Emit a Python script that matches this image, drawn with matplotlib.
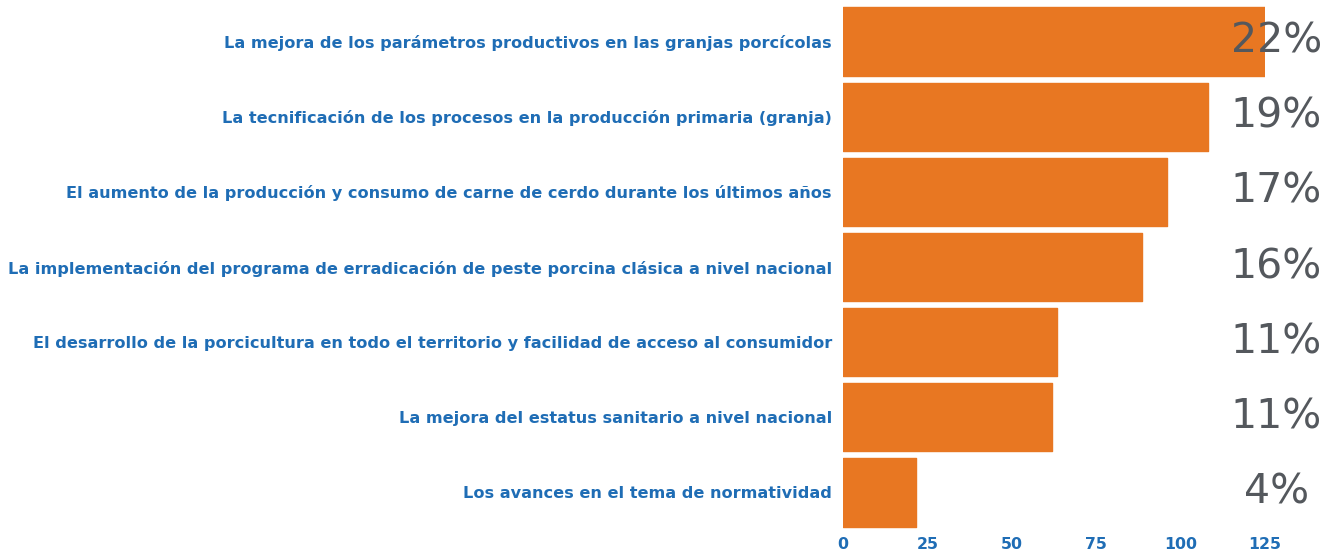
import matplotlib
matplotlib.use("Agg")
import matplotlib.pyplot as plt

categories = [
    "La mejora de los parámetros productivos en las granjas porcícolas",
    "La tecnificación de los procesos en la producción primaria (granja)",
    "El aumento de la producción y consumo de carne de cerdo durante los últimos años",
    "La implementación del programa de erradicación de peste porcina clásica a nivel nacional",
    "El desarrollo de la porcicultura en todo el territorio y facilidad de acceso al consumidor",
    "La mejora del estatus sanitario a nivel nacional",
    "Los avances en el tema de normatividad",
]
values = [125, 108, 96, 88.5, 63.5, 62, 21.5]
pct_labels = ["22%", "19%", "17%", "16%", "11%", "11%", "4%"]
xticks = [0, 25, 50, 75, 100, 125]

ORANGE = "#E87722"
BLUE = "#1F6DB5"
GRAY = "#54585D"

fig = plt.figure(figsize=(13.27, 5.54), dpi=100)
ax = fig.add_axes([843/1327, 1-530/554, (1265-843)/1327, (530-4)/554])

ypos = list(range(len(categories)))
bars = ax.barh(ypos, values, height=0.91, color=ORANGE, edgecolor=ORANGE,
               linewidth=1.0, joinstyle="round")
ax.set_xlim(0, 125)
ax.set_ylim(len(categories)-0.5, -0.5)

ax.set_yticks(ypos)
ax.set_yticklabels(categories, fontsize=11.6, fontweight="bold", color=BLUE,
                   family="DejaVu Sans")
ax.set_xticks(xticks)
ax.set_xticklabels([str(t) for t in xticks], fontsize=11.3, fontweight="bold",
                   color=BLUE, family="DejaVu Sans")
ax.tick_params(axis="both", length=0)
ax.tick_params(axis="y", pad=8)
ax.tick_params(axis="x", pad=5)
for s in ax.spines.values():
    s.set_visible(False)

for y, lab in zip(ypos, pct_labels):
    ax.text(128.3, y, lab, ha="center", va="center", fontsize=29.5,
            color=GRAY, family="DejaVu Sans", clip_on=False)

fig.savefig("out.png", dpi=100)
